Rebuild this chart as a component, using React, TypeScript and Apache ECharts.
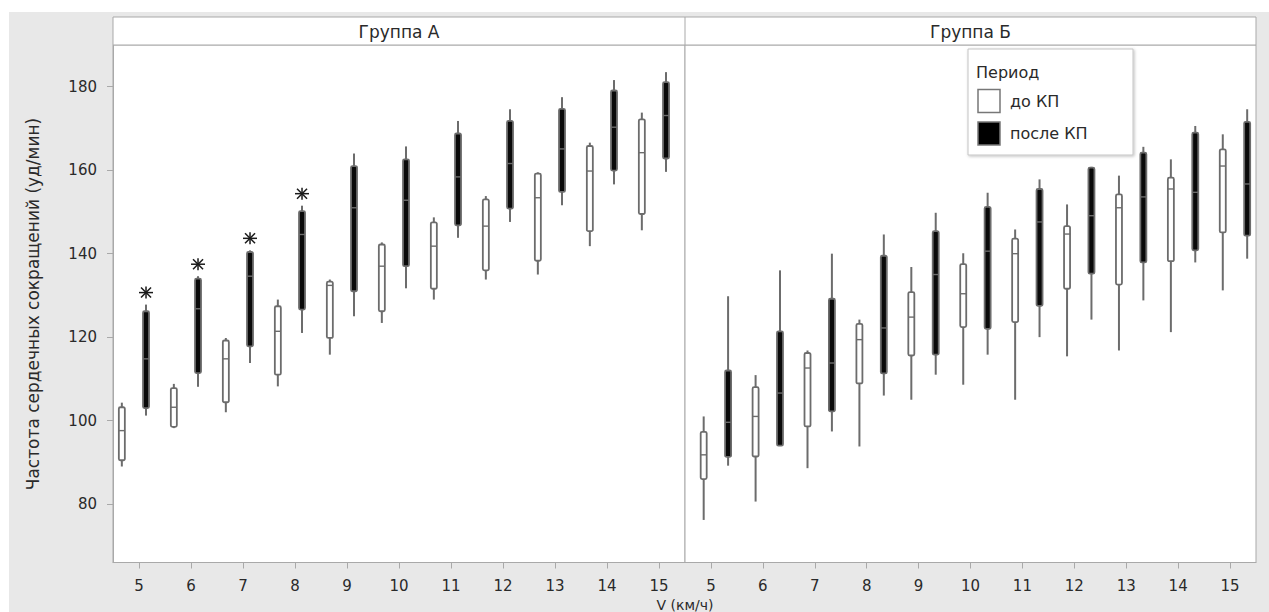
import React, { useEffect, useRef } from 'react';
import * as echarts from 'echarts';

const categories = ['5', '6', '7', '8', '9', '10', '11', '12', '13', '14', '15'];
const yTickValues = [80, 100, 120, 140, 160, 180];
const groupNames = ['Группа А', 'Группа Б'];
const legendTitle = 'Период';
const periodNames = ['до КП', 'после КП'];
const yTitle = 'Частота сердечных сокращений (уд/мин)';
const xTitle = 'V (км/ч)';

// [lower whisker, Q1, median, Q3, upper whisker]
const groupABefore = [
  [89.0, 90.5, 97.6, 103.2, 104.3],
  [98.2, 98.5, 103.2, 107.8, 108.8],
  [102.0, 104.4, 114.8, 119.2, 119.8],
  [108.2, 111.0, 121.4, 127.4, 129.0],
  [115.8, 119.8, 132.4, 133.3, 133.8],
  [123.4, 126.2, 137.0, 142.2, 142.7],
  [129.0, 131.6, 141.8, 147.5, 148.7],
  [133.8, 136.0, 146.6, 153.0, 153.8],
  [135.0, 138.3, 153.4, 159.2, 159.5],
  [141.8, 145.4, 159.8, 165.8, 166.6],
  [145.6, 149.5, 164.2, 172.2, 173.8],
];
const groupAAfter = [
  [101.2, 103.0, 114.8, 126.2, 127.8],
  [108.1, 111.4, 126.8, 134.0, 134.6],
  [113.8, 117.8, 134.6, 140.4, 140.8],
  [121.0, 126.6, 144.6, 150.2, 151.5],
  [125.0, 131.0, 151.0, 161.0, 164.0],
  [131.7, 137.0, 152.8, 162.6, 165.7],
  [143.8, 146.8, 158.4, 168.8, 171.8],
  [147.6, 150.8, 161.6, 171.8, 174.6],
  [151.6, 154.8, 165.1, 174.7, 177.5],
  [156.6, 159.9, 170.3, 179.1, 181.6],
  [159.6, 162.8, 173.1, 181.1, 183.5],
];
const groupBBefore = [
  [76.2, 86.0, 91.8, 97.3, 101.0],
  [80.6, 91.4, 101.0, 108.0, 110.9],
  [88.6, 98.6, 112.6, 116.2, 116.8],
  [93.8, 108.9, 119.4, 123.2, 124.2],
  [105.0, 115.6, 124.8, 130.8, 136.8],
  [108.6, 122.4, 130.4, 137.5, 140.1],
  [105.0, 123.6, 140.0, 143.6, 145.8],
  [115.4, 131.6, 144.7, 146.6, 151.8],
  [116.8, 132.6, 151.0, 154.2, 158.7],
  [121.2, 138.2, 155.5, 158.2, 162.6],
  [131.2, 145.1, 161.0, 165.0, 168.6],
];
const groupBAfter = [
  [89.2, 91.3, 99.6, 112.0, 129.8],
  [94.0, 94.0, 106.6, 121.4, 136.0],
  [97.4, 102.2, 113.8, 129.2, 140.0],
  [106.0, 111.3, 122.2, 139.5, 144.6],
  [111.0, 115.8, 135.0, 145.4, 149.8],
  [115.8, 122.0, 140.6, 151.2, 154.6],
  [120.0, 127.5, 147.6, 155.5, 157.8],
  [124.2, 135.2, 149.1, 160.6, 160.8],
  [128.8, 137.9, 153.6, 164.2, 165.6],
  [137.9, 140.8, 154.7, 169.0, 170.6],
  [138.8, 144.3, 156.7, 171.6, 174.6],
];
const groupASignificant = [1, 1, 1, 1, 0, 0, 0, 0, 0, 0, 0];
const groupBSignificant = [0, 0, 0, 0, 0, 0, 0, 0, 0, 0, 0];

const GRAY = '#6c6c6c';
const BORDER = '#a9a9a9';
const TEXT = '#2a2a2a';
const FONT = '"DejaVu Sans", "Liberation Sans", sans-serif';

const makeRender = (offset: number, fill: string) => (params: any, api: any) => {
  const idx = api.value(0);
  const band = api.size([1, 0])[0];
  const cx = api.coord([idx, 0])[0] + band * offset;
  const yLow = api.coord([idx, api.value(1)])[1];
  const yQ1 = api.coord([idx, api.value(2)])[1];
  const yMed = api.coord([idx, api.value(3)])[1];
  const yQ3 = api.coord([idx, api.value(4)])[1];
  const yHigh = api.coord([idx, api.value(5)])[1];
  const sig = api.value(6);
  const w = 6;
  const children: any[] = [
    {
      type: 'line',
      shape: { x1: cx, y1: yHigh, x2: cx, y2: yLow },
      style: { stroke: GRAY, lineWidth: 2 },
    },
    {
      type: 'rect',
      shape: { x: cx - w / 2, y: yQ3, width: w, height: Math.max(yQ1 - yQ3, 1), r: 1.5 },
      style: { fill, stroke: GRAY, lineWidth: 1.8 },
    },
    {
      type: 'line',
      shape: { x1: cx - w / 2, y1: yMed, x2: cx + w / 2, y2: yMed },
      style: { stroke: GRAY, lineWidth: 1.4 },
    },
  ];
  if (sig) {
    const sy = yHigh - 12;
    const st = { stroke: '#1a1a1a', lineWidth: 1.5 };
    children.push(
      { type: 'line', shape: { x1: cx - 7, y1: sy, x2: cx + 7, y2: sy }, style: st },
      { type: 'line', shape: { x1: cx - 5, y1: sy - 5, x2: cx + 5, y2: sy + 5 }, style: st },
      { type: 'line', shape: { x1: cx + 5, y1: sy - 5, x2: cx - 5, y2: sy + 5 }, style: st },
      { type: 'line', shape: { x1: cx, y1: sy - 6, x2: cx, y2: sy + 6 }, style: st }
    );
  }
  return { type: 'group', children };
};

const toData = (arr: number[][], sig: number[]) => arr.map((d, i) => [i, ...d, sig[i]]);

export default function App() {
  const ref = useRef<HTMLDivElement>(null);

  useEffect(() => {
    if (!ref.current) return;
    const chart = echarts.init(ref.current, null, { renderer: 'svg' });

    const xAxisBase = {
      type: 'category',
      data: categories,
      axisLine: { show: true, lineStyle: { color: BORDER } },
      axisTick: { show: true, alignWithLabel: true, length: 6, lineStyle: { color: BORDER } },
      axisLabel: { color: TEXT, fontSize: 15, fontFamily: FONT, margin: 15, lineHeight: 16 },
      splitLine: { show: false },
    };

    const option: any = {
      animation: false,
      backgroundColor: 'transparent',
      grid: [
        { left: 113, width: 572, top: 45, bottom: 49.5, show: true, backgroundColor: '#fff', borderColor: BORDER, borderWidth: 1 },
        { left: 685, right: 13, top: 45, bottom: 49.5, show: true, backgroundColor: '#fff', borderColor: BORDER, borderWidth: 1 },
      ],
      xAxis: [
        { ...xAxisBase, gridIndex: 0 },
        { ...xAxisBase, gridIndex: 1 },
      ],
      yAxis: [
        {
          type: 'value',
          gridIndex: 0,
          min: 66,
          max: 190,
          axisLine: { show: true, lineStyle: { color: BORDER } },
          axisTick: { show: true, length: 6, lineStyle: { color: BORDER }, customValues: yTickValues },
          axisLabel: { color: TEXT, fontSize: 15, fontFamily: FONT, margin: 16, customValues: yTickValues },
          splitLine: { show: false },
        },
        {
          type: 'value',
          gridIndex: 1,
          min: 66,
          max: 190,
          show: false,
          splitLine: { show: false },
        },
      ],
      series: [
        {
          type: 'custom',
          name: periodNames[0],
          xAxisIndex: 0,
          yAxisIndex: 0,
          renderItem: makeRender(-0.33, '#ffffff'),
          encode: { x: 0, y: [1, 2, 3, 4, 5] },
          data: toData(groupABefore, groupASignificant.map(() => 0)),
          clip: false,
        },
        {
          type: 'custom',
          name: periodNames[1],
          xAxisIndex: 0,
          yAxisIndex: 0,
          renderItem: makeRender(0.135, '#0a0a0a'),
          encode: { x: 0, y: [1, 2, 3, 4, 5] },
          data: toData(groupAAfter, groupASignificant),
          clip: false,
        },
        {
          type: 'custom',
          name: periodNames[0],
          xAxisIndex: 1,
          yAxisIndex: 1,
          renderItem: makeRender(-0.14, '#ffffff'),
          encode: { x: 0, y: [1, 2, 3, 4, 5] },
          data: toData(groupBBefore, groupBSignificant.map(() => 0)),
          clip: false,
        },
        {
          type: 'custom',
          name: periodNames[1],
          xAxisIndex: 1,
          yAxisIndex: 1,
          renderItem: makeRender(0.33, '#0a0a0a'),
          encode: { x: 0, y: [1, 2, 3, 4, 5] },
          data: toData(groupBAfter, groupBSignificant),
          clip: false,
        },
      ],
      graphic: [
        {
          type: 'rect',
          shape: { x: 113, y: 17, width: 1143, height: 28 },
          style: { fill: '#fff', stroke: BORDER, lineWidth: 1 },
          z: 10,
        },
        {
          type: 'line',
          shape: { x1: 685, y1: 17, x2: 685, y2: 45 },
          style: { stroke: BORDER, lineWidth: 1 },
          z: 11,
        },
        {
          type: 'text',
          x: 399,
          y: 32,
          style: { text: groupNames[0], fill: TEXT, fontSize: 17, fontFamily: FONT, align: 'center', verticalAlign: 'middle' },
          z: 11,
        },
        {
          type: 'text',
          x: 970.5,
          y: 32,
          style: { text: groupNames[1], fill: TEXT, fontSize: 17, fontFamily: FONT, align: 'center', verticalAlign: 'middle' },
          z: 11,
        },
        {
          type: 'text',
          x: 33,
          y: 304,
          rotation: Math.PI / 2,
          style: { text: yTitle, fill: TEXT, fontSize: 17, fontFamily: FONT, align: 'center', verticalAlign: 'middle' },
          z: 11,
        },
        {
          type: 'text',
          x: 685,
          y: 605,
          style: { text: xTitle, fill: TEXT, fontSize: 14, fontFamily: FONT, align: 'center', verticalAlign: 'middle', lineHeight: 14 },
          z: 11,
        },
        {
          type: 'rect',
          shape: { x: 968, y: 49, width: 165, height: 106 },
          style: {
            fill: '#fff',
            stroke: '#c4c4c4',
            lineWidth: 1,
            shadowBlur: 3,
            shadowColor: 'rgba(0,0,0,0.25)',
            shadowOffsetX: 1,
            shadowOffsetY: 1,
          },
          z: 20,
        },
        {
          type: 'text',
          x: 976,
          y: 72,
          style: { text: legendTitle, fill: TEXT, fontSize: 16, fontFamily: FONT, align: 'left', verticalAlign: 'middle' },
          z: 21,
        },
        {
          type: 'rect',
          shape: { x: 978, y: 89.5, width: 22, height: 23 },
          style: { fill: '#fff', stroke: '#777', lineWidth: 1.5 },
          z: 21,
        },
        {
          type: 'rect',
          shape: { x: 978, y: 122, width: 22, height: 23 },
          style: { fill: '#000', stroke: '#777', lineWidth: 1.5 },
          z: 21,
        },
        {
          type: 'text',
          x: 1010,
          y: 101,
          style: { text: periodNames[0], fill: TEXT, fontSize: 16, fontFamily: FONT, align: 'left', verticalAlign: 'middle' },
          z: 21,
        },
        {
          type: 'text',
          x: 1010,
          y: 133.5,
          style: { text: periodNames[1], fill: TEXT, fontSize: 16, fontFamily: FONT, align: 'left', verticalAlign: 'middle' },
          z: 21,
        },
      ],
    };

    chart.setOption(option);
    return () => chart.dispose();
  }, []);

  return (
    <div style={{ position: 'absolute', left: 0, top: 0, width: 1269, height: 612, background: '#fff' }}>
      <div style={{ position: 'absolute', left: 9, top: 12, width: 1260, height: 600, background: '#e8e8e8' }} />
      <div ref={ref} style={{ position: 'absolute', left: 0, top: 0, width: 1269, height: 612 }} />
    </div>
  );
}
